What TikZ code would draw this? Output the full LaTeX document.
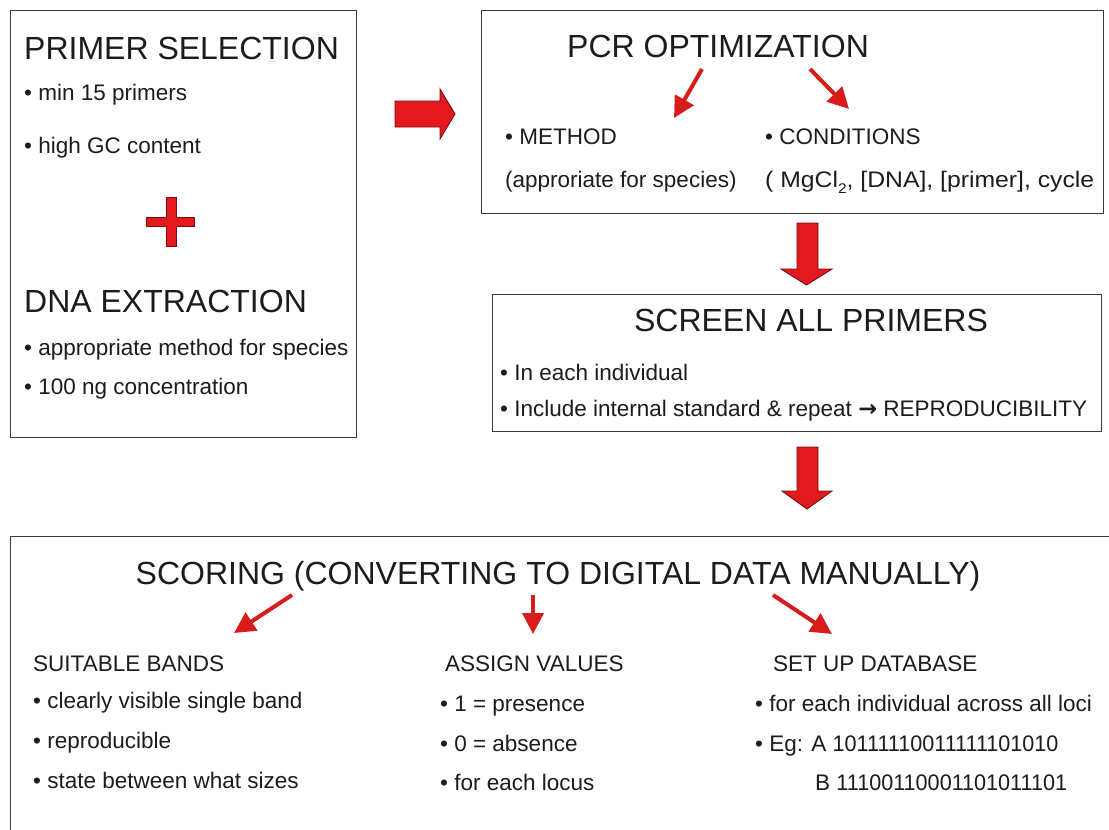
\documentclass[tikz,border=0pt]{standalone}
\usepackage{fontspec}
\setmainfont{Liberation Sans}
\newfontfamily\symbolfont{DejaVu Sans}
\newfontfamily\narrowfont{Liberation Sans}[FakeStretch=0.96]
\newfontfamily\wideface{Liberation Sans}[FakeStretch=1.1]
\usetikzlibrary{arrows.meta}

\definecolor{arrowred}{HTML}{E3191F}
\definecolor{arrowedge}{HTML}{7A0C0E}
\definecolor{pointred}{HTML}{D81C1C}
\definecolor{ink}{HTML}{1C1C1C}
\definecolor{frame}{HTML}{3A3A3A}

\tikzset{
  panel/.style={draw=frame, line width=1.4pt, fill=white, anchor=north west, inner sep=0pt},
  heading/.style={font=\fontsize{32}{36}\selectfont, text=ink, inner sep=0pt},
  item/.style={font=\fontsize{22.5}{26}\selectfont, text=ink, inner sep=0pt, anchor=base west},
  blockarrow/.style={fill=arrowred, draw=arrowedge, line width=0.9pt, line join=miter},
  pointer/.style={draw=pointred, line width=4pt, -{Triangle[length=21pt,width=21pt]}},
}

\begin{document}
\begin{tikzpicture}[x=1pt,y=-1pt]
\useasboundingbox (0,0) rectangle (1109,830);
\clip (0,0) rectangle (1109,830);
\fill[white] (0,0) rectangle (1109,830);

% panels
\node[panel, minimum width=346pt, minimum height=427pt] (prep) at (10,10) {};
\node[panel, minimum width=622pt, minimum height=203pt] (pcr) at (481,10) {};
\node[panel, minimum width=609pt, minimum height=137pt] (screen) at (492,294) {};
\node[panel, minimum width=1140pt, minimum height=330pt] (score) at (10,536) {};

% primer selection and DNA extraction
\node[heading, anchor=base west] (primsel) at (24,59) {PRIMER SELECTION};
\node[item] (ps1) at (24,100) {• min 15 primers};
\node[item] (ps2) at (24,153) {• high GC content};
\fill[arrowred, draw=arrowedge, line width=0.8pt]
  (146,217) -- (166,217) -- (166,197) -- (176,197) -- (176,217) -- (194,217)
  -- (194,226) -- (176,226) -- (176,246) -- (166,246) -- (166,226) -- (146,226) -- cycle;
\node[heading, anchor=base west] (dnaext) at (24,312) {DNA EXTRACTION};
\node[item] (de1) at (24,355) {• appropriate method for species};
\node[item] (de2) at (24,394) {• 100 ng concentration};

% PCR optimization
\node[heading, anchor=base] (pcrtitle) at (718,57) {PCR OPTIMIZATION};
\node[item] (method) at (505,144) {• METHOD};
\node[item] (method2) at (505,187) {(approriate for species)};
\node[item] (cond) at (765,144) {• CONDITIONS};
\node[item] (cond2) at (765,187) {\wideface ( MgCl\raisebox{-0.28em}{\fontsize{14}{14}\selectfont 2}, [DNA], [primer], cycle};

% screening
\node[heading, anchor=base] (screentitle) at (811,331) {SCREEN ALL PRIMERS};
\node[item] (sc1) at (500,380) {• In each individual};
\node[item] (sc2) at (500,416) {• Include internal standard \& repeat {\symbolfont\bfseries →} REPRODUCIBILITY};

% scoring
\node[heading, anchor=base] (scoretitle) at (558,584) {SCORING (CONVERTING TO DIGITAL DATA MANUALLY)};
\node[item] (bands) at (33,671) {SUITABLE BANDS};
\node[item] (b1) at (33,708) {• clearly visible single band};
\node[item] (b2) at (33,748) {• reproducible};
\node[item] (b3) at (33,788) {• state between what sizes};
\node[item] (values) at (445,671) {ASSIGN VALUES};
\node[item] (v1) at (440,711) {• 1 = presence};
\node[item] (v2) at (440,751) {• 0 = absence};
\node[item] (v3) at (440,790) {• for each locus};
\node[item] (base) at (773,671) {SET UP DATABASE};
\node[item] (d1) at (755,711) {• for each individual across all loci};
\node[item] (d2) at (755,751) {• Eg: A {\narrowfont 10111110011111101010}};
\node[item] (d3) at (815,790) {B {\narrowfont 11100110001101011101}};

% block arrows between stages
\draw[blockarrow] (395,101) -- (440,101) -- (440,89) -- (455,114) -- (440,139)
  -- (440,127) -- (395,127) -- cycle;
\draw[blockarrow] (797,223) -- (818,223) -- (818,269) -- (832,269) -- (806.5,285)
  -- (781,269) -- (797,269) -- cycle;
\draw[blockarrow] (797,447) -- (818,447) -- (818,491) -- (832,491) -- (807,509)
  -- (782,491) -- (797,491) -- cycle;

% pointers from headings to their items
\coordinate (pa1) at (702,69);  \coordinate (pb1) at (674,118);
\coordinate (pa2) at (810,69);  \coordinate (pb2) at (849,109);
\coordinate (sa1) at (292,595); \coordinate (sb1) at (234,633);
\coordinate (sa2) at (533,595); \coordinate (sb2) at (533,634);
\coordinate (sa3) at (773,595); \coordinate (sb3) at (832,634);
\draw[pointer] (pa1) -- (pb1);
\draw[pointer] (pa2) -- (pb2);
\draw[pointer] (sa1) -- (sb1);
\draw[pointer] (sa2) -- (sb2);
\draw[pointer] (sa3) -- (sb3);
\end{tikzpicture}
\end{document}
